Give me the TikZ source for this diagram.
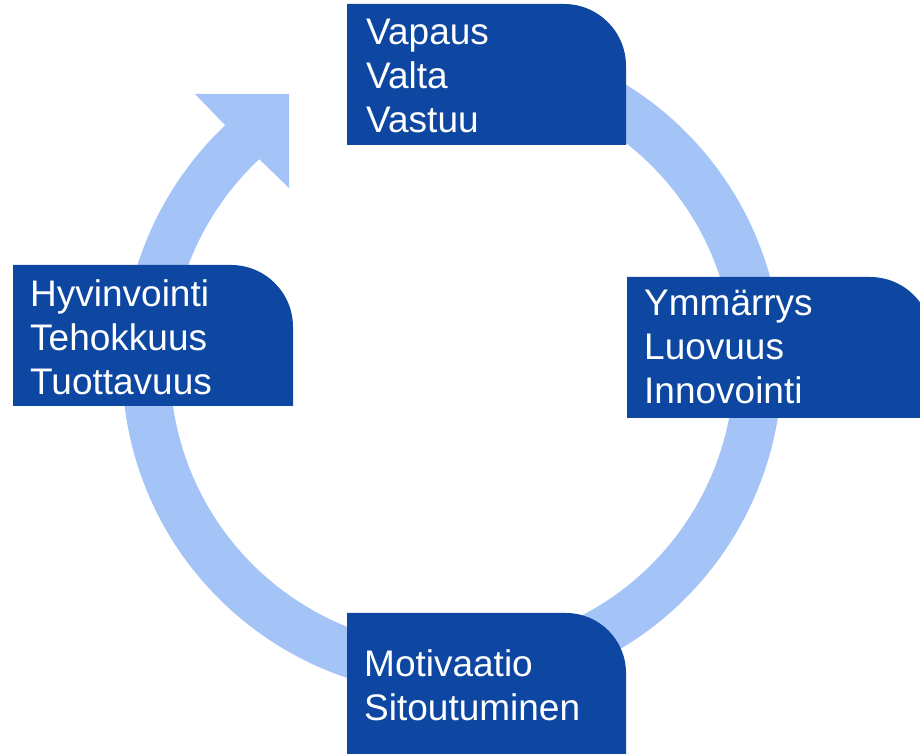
\documentclass[tikz,border=0pt]{standalone}
\usepackage{fontspec}
\setmainfont{Liberation Sans}
\definecolor{boxblue}{HTML}{0D47A1}
\definecolor{ringblue}{HTML}{A4C4F8}
\begin{document}
\begin{tikzpicture}[x=1pt,y=1pt,
  boxfill/.style={fill=boxblue},
  ringline/.style={draw=ringblue, line width=48pt},
  lbl/.style={text=white, font=\fontsize{37}{44}\selectfont, align=left, inner sep=0pt, anchor=north west}]
\useasboundingbox (0,0) rectangle (920,754);
\clip (0,0) rectangle (920,754);
\coordinate (c) at (452,389);
% ring
\draw[ringline] ([shift={(100:306)}]c) arc[start angle=100, end angle=-228, radius=306];
% arrow head
\fill[ringblue] (195,660) -- (289,660) -- (289,566) -- (257,597) -- (224,630) -- cycle;
% boxes
\fill[boxfill] (347,609) -- (347,750) -- (564,750) arc[start angle=90, end angle=0, radius=62] -- (626,609) -- cycle;
\fill[boxfill] (627,336) -- (627,477) -- (870,477) arc[start angle=90, end angle=0, radius=62] -- (932,336) -- cycle;
\fill[boxfill] (13,348) -- (13,489) -- (231,489) arc[start angle=90, end angle=0, radius=62] -- (293,348) -- cycle;
\fill[boxfill] (347,-10) -- (347,141) -- (566,141) arc[start angle=90, end angle=0, radius=60] -- (626,-10) -- cycle;
% labels
\node[lbl] (top) at (366,735) {Vapaus\\Valta\\Vastuu};
\node[lbl] (right) at (644,464) {Ymmärrys\\Luovuus\\Innovointi};
\node[lbl] (left) at (30,475) {Hyvinvointi\\Tehokkuus\\Tuottavuus};
\node[lbl] (bottom) at (364,105) {Motivaatio\\Sitoutuminen};
\end{tikzpicture}
\end{document}
